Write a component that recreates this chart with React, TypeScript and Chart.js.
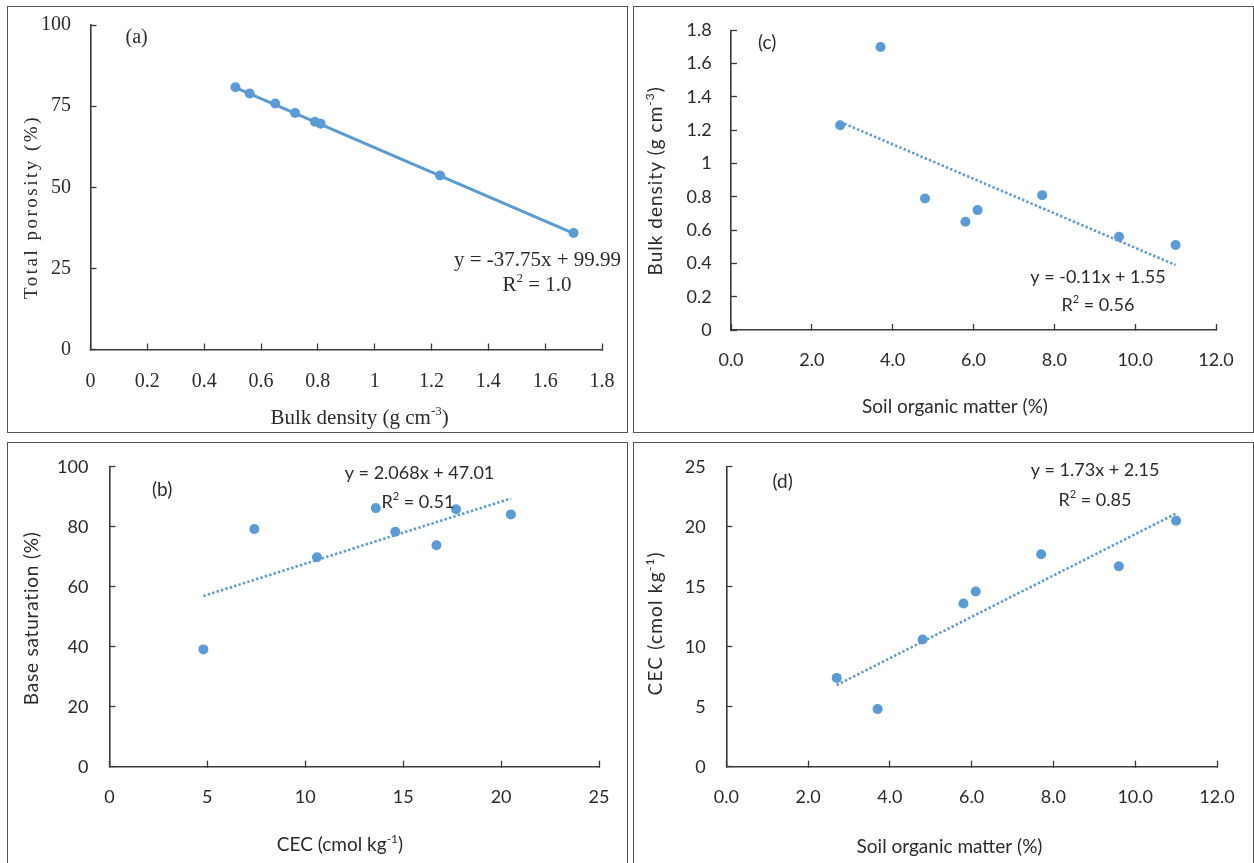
import React, { useEffect, useRef } from "react";
import { Chart, registerables } from "chart.js";

Chart.register(...registerables);

// ---------------- data ----------------
const somPct = [2.7, 3.7, 4.8, 5.8, 6.1, 7.7, 9.6, 11.0];
const bulkDensity = [1.23, 1.7, 0.79, 0.65, 0.72, 0.81, 0.56, 0.51];
const totalPorosity = [53.6, 35.9, 70.2, 75.8, 72.9, 69.6, 78.9, 80.8];
const cecValues = [7.4, 4.8, 10.6, 13.6, 14.6, 17.7, 16.7, 20.5];
const baseSaturation = [79.2, 39.1, 69.8, 86.2, 78.3, 85.8, 73.8, 84.1];

// trend line end points (x, y)
const trendAx = [0.51, 1.7];
const trendAy = [80.7, 35.8];
const trendBx = [4.8, 20.5];
const trendBy = [56.9, 89.4];
const trendCx = [2.7, 11.0];
const trendCy = [1.25, 0.39];
const trendDx = [2.7, 11.0];
const trendDy = [6.8, 21.1];

// axis ranges [min, max, step]
const xRangeA = [0, 1.8, 0.2];
const yRangeA = [0, 100, 25];
const xRangeB = [0, 25, 5];
const yRangeB = [0, 100, 20];
const xRangeC = [0, 12, 2];
const yRangeC = [0, 1.8, 0.2];
const xRangeD = [0, 12, 2];
const yRangeD = [0, 25, 5];

// texts
const eqA = "y = -37.75x + 99.99";
const r2A = " = 1.0";
const eqB = "y = 2.068x + 47.01";
const r2B = " = 0.51";
const eqC = "y = -0.11x + 1.55";
const r2C = " = 0.56";
const eqD = "y = 1.73x + 2.15";
const r2D = " = 0.85";

// ---------------- styles ----------------
const AXIS = "#3a3a3a";
const TXT = "#2b2b2b";
const BLUE = "#5B9BD5";
const SERIF = '"Liberation Serif", "DejaVu Serif", serif';
const SANS = 'Lato, "Open Sans", "DejaVu Sans", sans-serif';

type Seg = { t: string; sup?: boolean };
type TextItem = {
  segs: Seg[];
  x: number;
  y: number;
  align: "left" | "center";
  rotate?: boolean;
  size: number;
  family: string;
  spacing?: number;
};

type PanelCfg = {
  left: number;
  top: number;
  width: number;
  canvasH: number;
  boxH: number;
  plot: { l: number; t: number; r: number; b: number };
  xs: number[];
  ys: number[];
  tx: number[];
  ty: number[];
  dashed: boolean;
  xRange: number[];
  yRange: number[];
  xDecimals: number | null;
  family: string;
  tickSize: number;
  yPad: number;
  xPad: number;
  texts: TextItem[];
};

const pts = (xs: number[], ys: number[]) => xs.map((x, i) => ({ x, y: ys[i] }));

function drawRich(ctx: CanvasRenderingContext2D, it: TextItem) {
  ctx.save();
  ctx.translate(it.x, it.y);
  if (it.rotate) ctx.rotate(-Math.PI / 2);
  ctx.fillStyle = TXT;
  ctx.textBaseline = "middle";
  ctx.textAlign = "left";
  const sp = it.spacing || 0;
  (ctx as any).letterSpacing = sp + "px";
  const base = `${it.size}px ${it.family}`;
  const sup = `${Math.round(it.size * 0.62)}px ${it.family}`;
  let total = 0;
  const widths = it.segs.map((s) => {
    ctx.font = s.sup ? sup : base;
    const w = ctx.measureText(s.t).width;
    total += w;
    return w;
  });
  let x = it.align === "center" ? -total / 2 : 0;
  it.segs.forEach((s, i) => {
    ctx.font = s.sup ? sup : base;
    ctx.fillText(s.t, x, s.sup ? -it.size * 0.32 : 0);
    x += widths[i];
  });
  ctx.restore();
}

function makeScale(
  axis: "x" | "y",
  range: number[],
  decimals: number | null,
  family: string,
  size: number,
  pad: number,
  extent: number
) {
  return {
    type: "linear" as const,
    position: axis === "x" ? "bottom" : "left",
    min: range[0],
    max: range[1],
    ticks: {
      stepSize: range[2],
      padding: pad,
      color: TXT,
      autoSkip: false,
      maxRotation: 0,
      minRotation: 0,
      font: { family, size },
      callback: (v: any) =>
        decimals == null ? String(Math.round(Number(v) * 1000) / 1000) : Number(v).toFixed(decimals),
    },
    grid: {
      display: true,
      drawOnChartArea: false,
      drawTicks: true,
      tickLength: -6,
      tickColor: AXIS,
      tickWidth: 1.3,
    },
    border: { display: true, color: AXIS, width: 1.6 },
    title: { display: false },
    afterFit: (s: any) => {
      if (axis === "x") s.height = extent;
      else s.width = extent;
      s.paddingTop = 0;
      s.paddingBottom = 0;
      s.paddingLeft = 0;
      s.paddingRight = 0;
    },
  };
}

function Panel({ cfg }: { cfg: PanelCfg }) {
  const ref = useRef<HTMLCanvasElement>(null);
  useEffect(() => {
    const canvas = ref.current;
    if (!canvas) return;
    const textPlugin = {
      id: "richText" + cfg.left + "_" + cfg.top,
      afterDraw(chart: any) {
        const ctx = chart.ctx as CanvasRenderingContext2D;
        cfg.texts.forEach((t) => drawRich(ctx, t));
      },
    };
    const chart = new Chart(canvas, {
      type: "scatter",
      data: {
        datasets: [
          {
            label: "trend",
            data: pts(cfg.tx, cfg.ty),
            showLine: true,
            borderColor: BLUE,
            borderWidth: cfg.dashed ? 2.6 : 3,
            borderDash: cfg.dashed ? [2.4, 2.2] : [],
            pointRadius: 0,
            fill: false,
            clip: false as any,
          } as any,
          {
            label: "data",
            data: pts(cfg.xs, cfg.ys),
            pointRadius: 5,
            pointBackgroundColor: BLUE,
            pointBorderColor: BLUE,
            pointBorderWidth: 0,
            showLine: false,
            clip: false as any,
          } as any,
        ],
      },
      options: {
        animation: false,
        responsive: false,
        devicePixelRatio: 1,
        events: [],
        layout: {
          padding: {
            left: 0,
            top: cfg.plot.t,
            right: cfg.width - cfg.plot.r,
            bottom: 0,
          },
        },
        plugins: { legend: { display: false }, tooltip: { enabled: false }, title: { display: false } },
        scales: {
          x: makeScale("x", cfg.xRange, cfg.xDecimals, cfg.family, cfg.tickSize, cfg.xPad, cfg.canvasH - cfg.plot.b) as any,
          y: makeScale("y", cfg.yRange, null, cfg.family, cfg.tickSize, cfg.yPad, cfg.plot.l) as any,
        },
      },
      plugins: [textPlugin],
    });
    return () => chart.destroy();
  }, [cfg]);
  return (
    <>
      <canvas
        ref={ref}
        width={cfg.width}
        height={cfg.canvasH}
        style={{ position: "absolute", left: cfg.left, top: cfg.top, width: cfg.width, height: cfg.canvasH }}
      />
      <div
        style={{
          position: "absolute",
          left: cfg.left,
          top: cfg.top,
          width: cfg.width,
          height: cfg.boxH,
          border: "1px solid #555",
          boxSizing: "border-box",
          pointerEvents: "none",
        }}
      />
    </>
  );
}

const R2 = (rest: string): Seg[] => [{ t: "R" }, { t: "2", sup: true }, { t: rest }];

const panelA: PanelCfg = {
  left: 7,
  top: 6,
  width: 621,
  canvasH: 427,
  boxH: 427,
  plot: { l: 83.5, t: 19, r: 595, b: 343.5 },
  xs: bulkDensity,
  ys: totalPorosity,
  tx: trendAx,
  ty: trendAy,
  dashed: false,
  xRange: xRangeA,
  yRange: yRangeA,
  xDecimals: null,
  family: SERIF,
  tickSize: 20,
  yPad: 25.5,
  xPad: 26,
  texts: [
    { segs: [{ t: "(a)" }], x: 118.5, y: 32, align: "left", size: 20, family: SERIF },
    { segs: [{ t: eqA }], x: 530.5, y: 254, align: "center", size: 21, family: SERIF },
    { segs: R2(r2A), x: 530, y: 279, align: "center", size: 21, family: SERIF },
    {
      segs: [{ t: "Bulk density (g cm" }, { t: "-3", sup: true }, { t: ")" }],
      x: 352.6,
      y: 412,
      align: "center",
      size: 21,
      family: SERIF,
    },
    { segs: [{ t: "Total porosity (%)" }], x: 25, y: 201, align: "center", rotate: true, size: 19, family: SERIF, spacing: 2.5 },
  ],
};

const panelC: PanelCfg = {
  left: 633,
  top: 6,
  width: 621,
  canvasH: 427,
  boxH: 427,
  plot: { l: 98, t: 24.3, r: 583, b: 324 },
  xs: somPct,
  ys: bulkDensity,
  tx: trendCx,
  ty: trendCy,
  dashed: true,
  xRange: xRangeC,
  yRange: yRangeC,
  xDecimals: 1,
  family: SANS,
  tickSize: 18,
  yPad: 25.3,
  xPad: 25.2,
  texts: [
    { segs: [{ t: "(c)" }], x: 125, y: 37, align: "left", size: 19, family: SANS },
    { segs: [{ t: eqC }], x: 465, y: 271, align: "center", size: 18, family: SANS },
    { segs: R2(r2C), x: 465, y: 299, align: "center", size: 18, family: SANS },
    { segs: [{ t: "Soil organic matter (%)" }], x: 322, y: 401, align: "center", size: 19, family: SANS },
    {
      segs: [{ t: "Bulk density (g cm" }, { t: "-3", sup: true }, { t: ")" }],
      x: 23,
      y: 174.8,
      align: "center",
      rotate: true,
      size: 19,
      family: SANS,
      spacing: 1,
    },
  ],
};

const panelB: PanelCfg = {
  left: 7,
  top: 442,
  width: 621,
  canvasH: 421,
  boxH: 430,
  plot: { l: 102.4, t: 24.7, r: 592, b: 324.7 },
  xs: cecValues,
  ys: baseSaturation,
  tx: trendBx,
  ty: trendBy,
  dashed: true,
  xRange: xRangeB,
  yRange: yRangeB,
  xDecimals: null,
  family: SANS,
  tickSize: 18,
  yPad: 27,
  xPad: 25.2,
  texts: [
    { segs: [{ t: "(b)" }], x: 145, y: 48, align: "left", size: 19, family: SANS },
    { segs: [{ t: eqB }], x: 412.5, y: 31, align: "center", size: 18, family: SANS },
    { segs: R2(r2B), x: 411, y: 60, align: "center", size: 18, family: SANS },
    {
      segs: [{ t: "CEC (cmol kg" }, { t: "-1", sup: true }, { t: ")" }],
      x: 333,
      y: 403,
      align: "center",
      size: 19,
      family: SANS,
    },
    { segs: [{ t: "Base saturation (%)" }], x: 25, y: 176.3, align: "center", rotate: true, size: 19, family: SANS, spacing: 0.8 },
  ],
};

const panelD: PanelCfg = {
  left: 633,
  top: 442,
  width: 621,
  canvasH: 421,
  boxH: 430,
  plot: { l: 93.3, t: 24.7, r: 584, b: 324.7 },
  xs: somPct,
  ys: cecValues,
  tx: trendDx,
  ty: trendDy,
  dashed: true,
  xRange: xRangeD,
  yRange: yRangeD,
  xDecimals: 1,
  family: SANS,
  tickSize: 18,
  yPad: 26.7,
  xPad: 25.2,
  texts: [
    { segs: [{ t: "(d)" }], x: 139.5, y: 39.7, align: "left", size: 19, family: SANS },
    { segs: [{ t: eqD }], x: 462, y: 28, align: "center", size: 18, family: SANS },
    { segs: R2(r2D), x: 462, y: 58, align: "center", size: 18, family: SANS },
    { segs: [{ t: "Soil organic matter (%)" }], x: 316.5, y: 404.7, align: "center", size: 19, family: SANS },
    {
      segs: [{ t: "CEC (cmol kg" }, { t: "-1", sup: true }, { t: ")" }],
      x: 23,
      y: 181.3,
      align: "center",
      rotate: true,
      size: 19,
      family: SANS,
      spacing: 1.2,
    },
  ],
};

export default function App() {
  return (
    <div
      style={{
        position: "fixed",
        left: 0,
        top: 0,
        width: 1254,
        height: 863,
        background: "#ffffff",
        overflow: "hidden",
      }}
    >
      <Panel cfg={panelA} />
      <Panel cfg={panelC} />
      <Panel cfg={panelB} />
      <Panel cfg={panelD} />
    </div>
  );
}
